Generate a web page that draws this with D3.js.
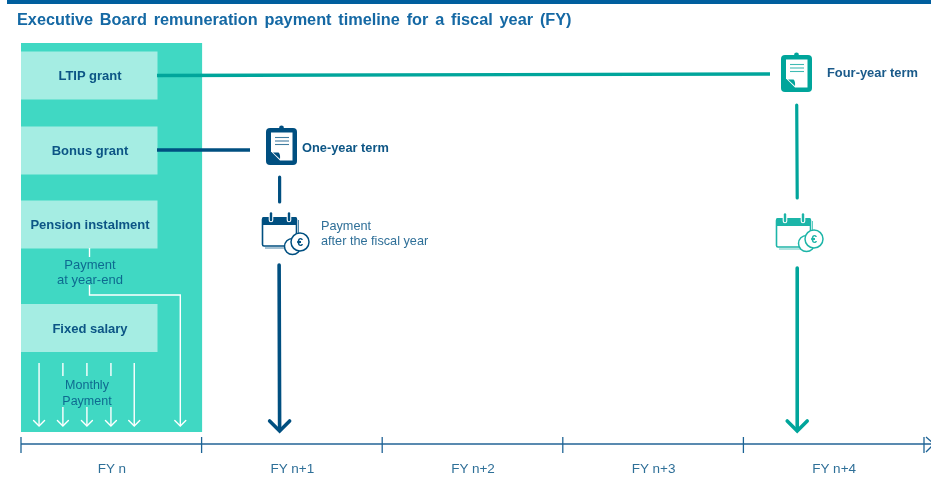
<!DOCTYPE html>
<html>
<head>
<meta charset="utf-8">
<script src="https://cdn.jsdelivr.net/npm/d3@7"></script>
<style>
html, body { margin: 0; padding: 0; background: #fff; }
svg { display: block; }
text { font-family: "Liberation Sans", Arial, sans-serif; }
</style>
</head>
<body>
<div id="chart"></div>
<script>
var svgWidth = 931;
var svgHeight = 488;

var titleText = 'Executive Board remuneration payment timeline for a fiscal year (FY)';
var fiscalYears = ['FY n', 'FY n+1', 'FY n+2', 'FY n+3', 'FY n+4'];
var grantLabels = ['LTIP grant', 'Bonus grant', 'Pension instalment', 'Fixed salary'];
var grantCentres = [75.5, 150.5, 224.5, 328];

// position of the payments, in fiscal years from the start of FY n
var monthlyPayments = [0.1, 0.232, 0.365, 0.498, 0.627];
var monthlyBroken = [false, true, true, true, false];
var yearEndPayment = 0.882;
var bonusPayment = 1.432;
var ltipPayment = 4.298;

var navy = '#004f80';
var teal = '#00a59b';
var axisBlue = '#1f6496';
var softBlue = '#2f6f98';

var x = d3.scaleLinear().domain([0, 5]).range([21, 924]);
var band = d3.scaleBand().domain(fiscalYears).range([21, 924]);

var root = d3.select('#chart').append('svg')
    .attr('width', svgWidth)
    .attr('height', svgHeight);

// the reference is a slightly soft screenshot
root.append('filter')
    .attr('id', 'soft')
    .attr('filterUnits', 'userSpaceOnUse')
    .attr('x', 0).attr('y', 0)
    .attr('width', svgWidth).attr('height', svgHeight)
    .append('feGaussianBlur')
    .attr('stdDeviation', 0.35);

var svg = root.append('g').attr('filter', 'url(#soft)');

svg.append('rect').attr('x', 7).attr('y', 0).attr('width', 924).attr('height', 4).attr('fill', '#005f9e');

svg.append('text')
    .text(titleText)
    .attr('x', 17)
    .attr('y', 25)
    .attr('font-size', '16.3px')
    .attr('font-weight', 'bold')
    .attr('word-spacing', '2.3px')
    .attr('fill', '#1368a4');

// green FY n panel
svg.append('rect')
    .attr('x', x(0)).attr('y', 43)
    .attr('width', x(1) - x(0) + 0.5).attr('height', 389)
    .attr('fill', '#3fd8c3');

svg.selectAll('.grant')
    .data(grantLabels)
    .enter()
    .append('rect')
    .attr('class', 'grant')
    .attr('x', x(0))
    .attr('y', function(d, i) { return grantCentres[i] - 24; })
    .attr('width', 136.5)
    .attr('height', 48)
    .attr('fill', '#a5ede3');

svg.selectAll('.grant-label')
    .data(grantLabels)
    .enter()
    .append('text')
    .attr('class', 'grant-label')
    .text(function(d) { return d; })
    .attr('x', 90)
    .attr('y', function(d, i) { return grantCentres[i] + 4.5; })
    .attr('text-anchor', 'middle')
    .attr('font-size', '13px')
    .attr('font-weight', 'bold')
    .attr('fill', '#0b5585');

function line(x1, y1, x2, y2, color, width, cap) {
    return svg.append('line')
        .attr('x1', x1).attr('y1', y1).attr('x2', x2).attr('y2', y2)
        .attr('stroke', color)
        .attr('stroke-width', width)
        .attr('stroke-linecap', cap || 'butt');
}

function arrowHead(px, py, size, color, width) {
    svg.append('path')
        .attr('d', d3.line()([[px - size, py - size], [px, py], [px + size, py - size]]))
        .attr('fill', 'none')
        .attr('stroke', color)
        .attr('stroke-width', width)
        .attr('stroke-linecap', 'round')
        .attr('stroke-linejoin', 'miter');
}

// white payment lines inside the panel, broken where the labels sit
monthlyPayments.forEach(function(d, i) {
    if (monthlyBroken[i]) {
        line(x(d), 363, x(d), 376, '#fff', 1.4);
        line(x(d), 407, x(d), 426, '#fff', 1.4);
    } else {
        line(x(d), 363, x(d), 426, '#fff', 1.4);
    }
    arrowHead(x(d), 426, 5.5, '#fff', 1.4);
});

line(89.5, 248, 89.5, 257, '#fff', 1.4);
svg.append('path')
    .attr('d', d3.line()([[89.5, 285], [89.5, 295], [x(yearEndPayment), 295], [x(yearEndPayment), 426]]))
    .attr('fill', 'none')
    .attr('stroke', '#fff')
    .attr('stroke-width', 1.4);
arrowHead(x(yearEndPayment), 426, 5.5, '#fff', 1.4);

function softText(lines, px, py, anchor, color, size) {
    var t = svg.append('text')
        .attr('font-size', size + 'px')
        .attr('text-anchor', anchor)
        .attr('fill', color);
    lines.forEach(function(d, i) {
        t.append('tspan').attr('x', px).attr('y', py + i * 15.5).text(d);
    });
}

softText(['Payment', 'at year-end'], 90, 268.5, 'middle', '#0f6a90', 13);
softText(['Monthly', 'Payment'], 87, 389, 'middle', '#0f6a90', 12.5);

// connecting lines
line(157, 75.5, 770, 74, teal, 3.4);
line(157, 150, 250, 150, navy, 3.4);
line(x(bonusPayment), 177, x(bonusPayment), 202, navy, 3.2, 'round');
line(x(bonusPayment) - 0.5, 265, x(bonusPayment), 430, navy, 3.6, 'round');
arrowHead(x(bonusPayment), 431, 10, navy, 3.6);
line(x(ltipPayment) - 0.5, 105, x(ltipPayment), 198, teal, 3.2, 'round');
line(x(ltipPayment), 268, x(ltipPayment), 430, teal, 3.6, 'round');
arrowHead(x(ltipPayment), 431, 10, teal, 3.6);

function clipboard(px, py, color) {
    var g = svg.append('g').attr('transform', 'translate(' + px + ',' + py + ')');
    g.append('circle').attr('cx', 15.5).attr('cy', 0).attr('r', 2.4).attr('fill', color);
    g.append('rect').attr('width', 31).attr('height', 37).attr('rx', 4).attr('fill', color);
    g.append('path').attr('d', 'M5,4.5H26.5V32.5H14L5,23.5Z').attr('fill', '#fff');
    g.append('path').attr('d', 'M7,24.5H12.5Q14.5,26 14,31Z').attr('fill', color);
    [9.5, 13, 16.5].forEach(function(d) {
        g.append('line').attr('x1', 9).attr('x2', 23).attr('y1', d).attr('y2', d)
            .attr('stroke', color).attr('stroke-width', 1.1).attr('opacity', 0.75);
    });
}

function calendar(px, py, color, coinY) {
    var g = svg.append('g').attr('transform', 'translate(' + px + ',' + py + ')');
    g.append('path').attr('d', 'M36.5,8V36H3').attr('fill', 'none').attr('stroke', color).attr('stroke-width', 1).attr('opacity', 0.7);
    g.append('rect').attr('x', 0.5).attr('y', 6).attr('width', 34).attr('height', 28).attr('rx', 1.5)
        .attr('fill', '#fff').attr('stroke', color).attr('stroke-width', 1.6);
    g.append('rect').attr('x', 0).attr('y', 5).attr('width', 35).attr('height', 8).attr('rx', 1.5).attr('fill', color);
    [9, 27].forEach(function(d) {
        g.append('line').attr('x1', d).attr('x2', d).attr('y1', 1).attr('y2', 8)
            .attr('stroke', '#fff').attr('stroke-width', 4.6).attr('stroke-linecap', 'round');
        g.append('line').attr('x1', d).attr('x2', d).attr('y1', 1.5).attr('y2', 8)
            .attr('stroke', color).attr('stroke-width', 2.4).attr('stroke-linecap', 'round');
    });
    g.append('circle').attr('cx', 30.5).attr('cy', coinY + 4.5).attr('r', 8).attr('fill', '#fff').attr('stroke', color).attr('stroke-width', 1.5);
    g.append('circle').attr('cx', 38).attr('cy', coinY).attr('r', 9).attr('fill', '#fff').attr('stroke', color).attr('stroke-width', 1.5);
    g.append('text').text('€').attr('x', 38).attr('y', coinY + 4).attr('text-anchor', 'middle')
        .attr('font-size', '11px').attr('font-weight', 'bold').attr('fill', color);
}

clipboard(266, 128, navy);
clipboard(781, 55, teal);
calendar(262, 212, navy, 30);
calendar(776, 213, '#1fb5a8', 26);

svg.append('text').text('One-year term')
    .attr('x', 302).attr('y', 152)
    .attr('font-size', '12.8px').attr('font-weight', 'bold').attr('fill', '#0b5585');
svg.append('text').text('Four-year term')
    .attr('x', 827).attr('y', 77)
    .attr('font-size', '12.9px').attr('font-weight', 'bold').attr('fill', '#1a5a8a');

softText(['Payment', 'after the fiscal year'], 321, 229.5, 'start', softBlue, 12.7);

// FY axis along the bottom
var axisY = 444;
line(x(0), axisY, 931, axisY, axisBlue, 1.3);
svg.selectAll('.tick-mark')
    .data(d3.range(0, 6))
    .enter()
    .append('line')
    .attr('class', 'tick-mark')
    .attr('x1', function(d) { return x(d); })
    .attr('x2', function(d) { return x(d); })
    .attr('y1', axisY - 7)
    .attr('y2', axisY + 9)
    .attr('stroke', axisBlue)
    .attr('stroke-width', 1.3);
svg.append('path')
    .attr('d', d3.line()([[926, 437], [934, 444], [926, 452]]))
    .attr('fill', 'none')
    .attr('stroke', axisBlue)
    .attr('stroke-width', 1.3);

svg.selectAll('.fy-label')
    .data(fiscalYears)
    .enter()
    .append('text')
    .attr('class', 'fy-label')
    .text(function(d) { return d; })
    .attr('x', function(d) { return band(d) + band.bandwidth() / 2 + 0.5; })
    .attr('y', 473)
    .attr('text-anchor', 'middle')
    .attr('font-size', '13.5px')
    .attr('fill', softBlue);
</script>
</body>
</html>
